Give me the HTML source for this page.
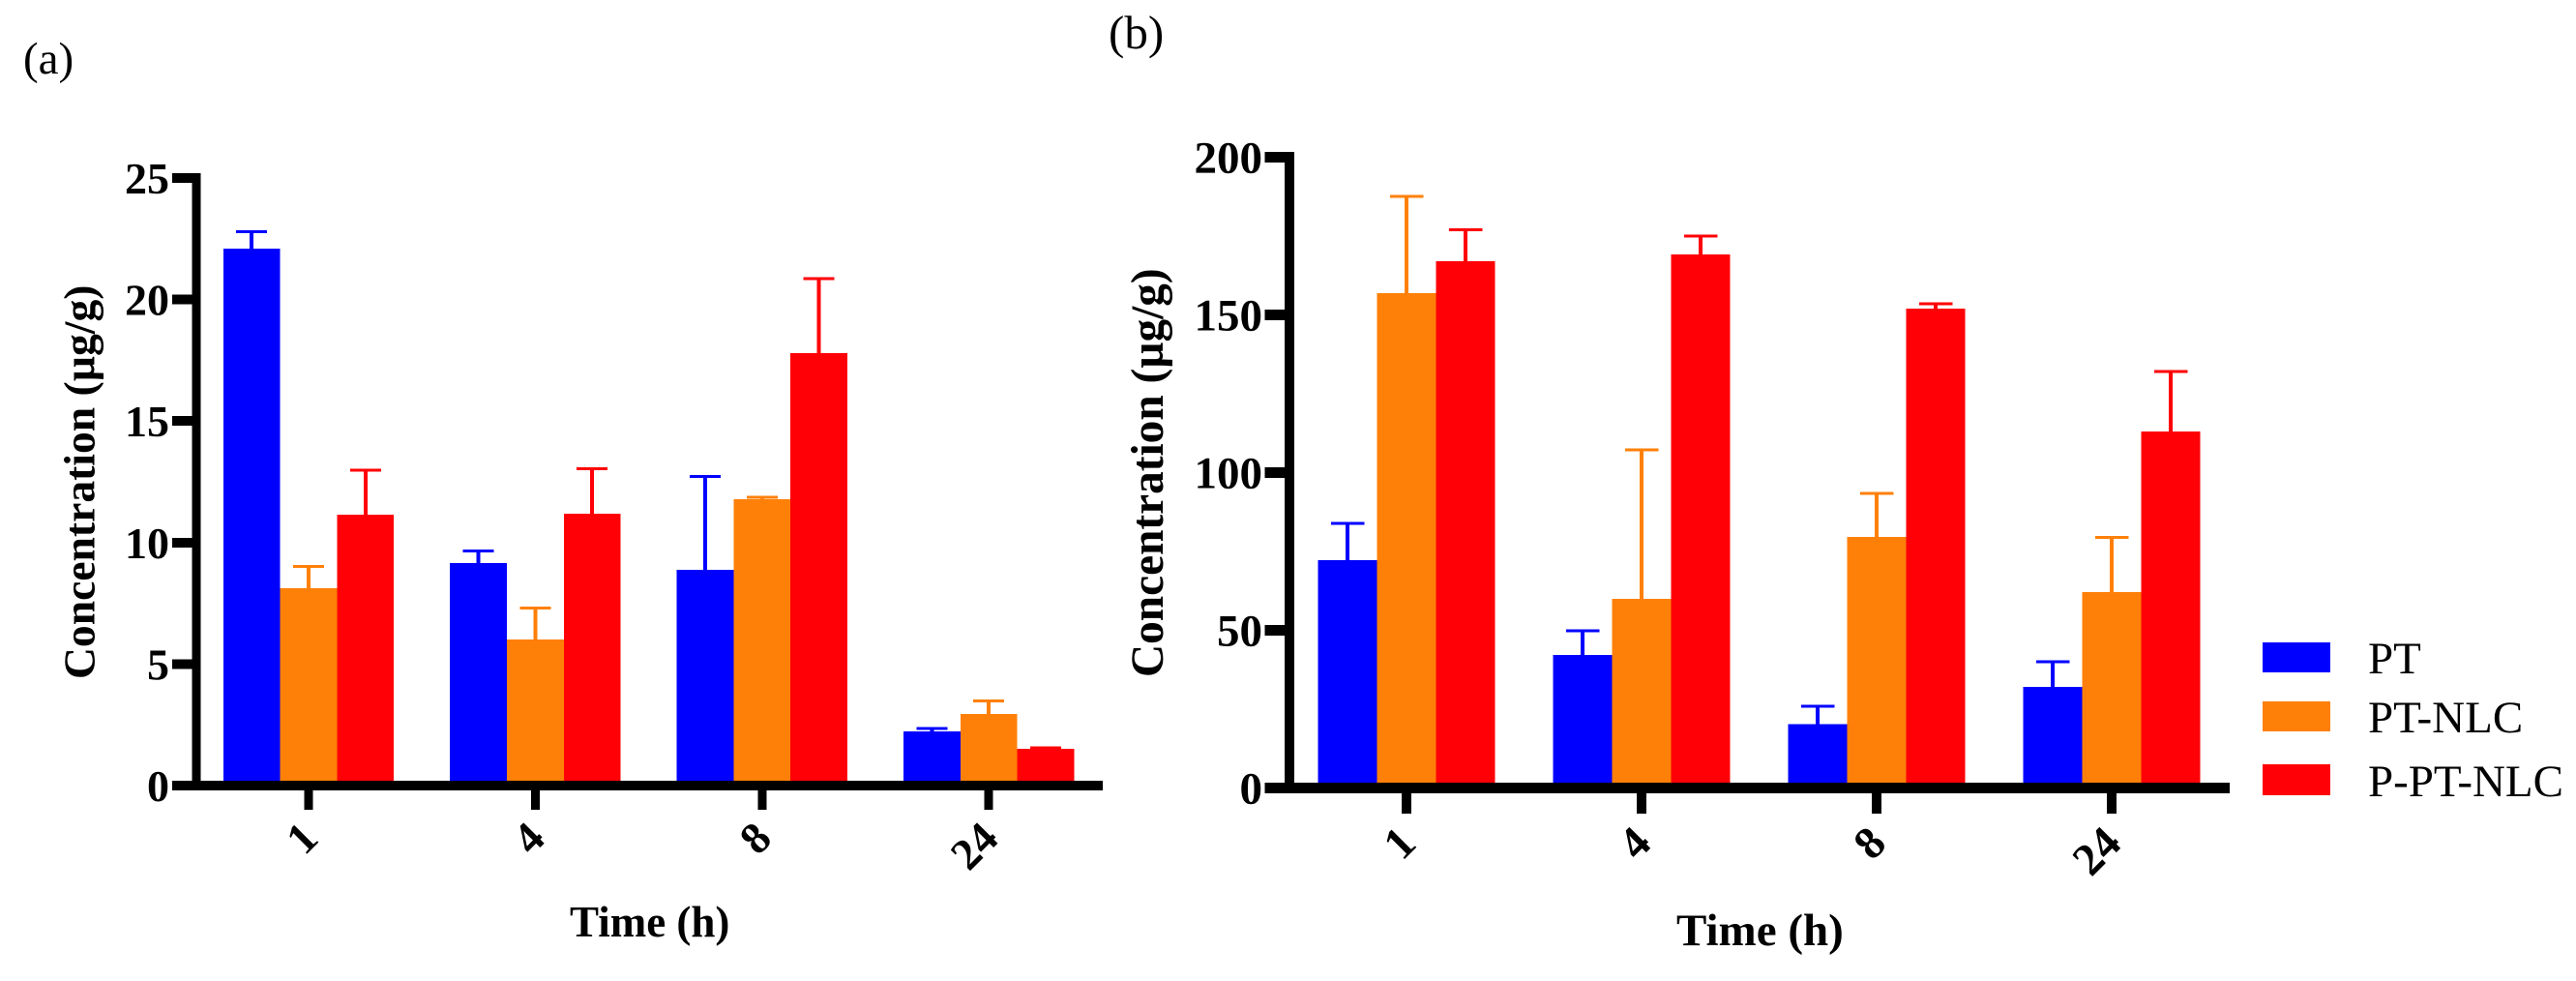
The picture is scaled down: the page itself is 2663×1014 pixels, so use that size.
<!DOCTYPE html>
<html>
<head>
<meta charset="utf-8">
<title>Concentration bar charts</title>
<style>
html,body{margin:0;padding:0;background:#fff;}
#figure{display:block;width:2663px;height:1014px;background:#fff;}
text{font-family:"Liberation Serif","DejaVu Serif",serif;fill:#000;}
.b{font-weight:bold;}
rect{shape-rendering:crispEdges;}
</style>
</head>
<body>
<svg id="figure" xmlns="http://www.w3.org/2000/svg" width="2663" height="1014" viewBox="0 0 2663 1014">
  <text x="24" y="76" font-size="47">(a)</text>
  <text x="1146" y="50" font-size="49">(b)</text>

  <g id="chart-a"></g>
  <g id="chart-b"></g>

  <text class="b" font-size="45.6" transform="translate(97.5,702) rotate(-90)">Concentration (µg/g)</text>
  <text class="b" font-size="47.3" transform="translate(1202,700) rotate(-90)">Concentration (µg/g)</text>
  <text class="b" x="589" y="968" font-size="45">Time (h)</text>
  <text class="b" x="1733" y="977" font-size="47">Time (h)</text>

  <g>
    <g>
      <rect x="2339" y="664" width="70" height="31" fill="#0000ff"></rect>
      <text x="2448" y="696" font-size="47">PT</text>
    </g>
    <g>
      <rect x="2339" y="725" width="70" height="31" fill="#ff8008"></rect>
      <text x="2448" y="757" font-size="47">PT-NLC</text>
    </g>
    <g>
      <rect x="2339" y="790" width="70" height="32" fill="#fe0006"></rect>
      <text x="2448" y="823" font-size="47">P-PT-NLC</text>
    </g>
  </g>
</svg>
<script>
// Shared categories and series
var categories = ['1', '4', '8', '24'];
var seriesKeys = ['pt', 'pt-nlc', 'p-pt-nlc'];
var seriesColors = ['#0000ff', '#ff8008', '#fe0006'];

// Panel (a) values
var aTicks = [0, 5, 10, 15, 20, 25];
var aPT = [22.09, 9.16, 8.88, 2.23];
var aPTNLC = [8.12, 6.01, 11.78, 2.95];
var aPPTNLC = [11.15, 11.19, 17.79, 1.51];
var aPTErr = [0.71, 0.49, 3.84, 0.12];
var aPTNLCErr = [0.90, 1.29, 0.08, 0.53];
var aPPTNLCErr = [1.83, 1.84, 3.07, 0.05];

// Panel (b) values
var bTicks = [0, 50, 100, 150, 200];
var bPT = [72.3, 42.2, 20.3, 32.1];
var bPTNLC = [157, 60, 79.7, 62.1];
var bPPTNLC = [167.1, 169.2, 152, 113.1];
var bPTErr = [11.6, 7.7, 5.6, 8];
var bPTNLCErr = [30.7, 47.3, 13.8, 17.4];
var bPPTNLCErr = [10, 5.8, 1.6, 19];

var SVGNS = 'http://www.w3.org/2000/svg';

function make(tag, attrs, parent, text) {
  var node = document.createElementNS(SVGNS, tag);
  for (var k in attrs) node.setAttribute(k, attrs[k]);
  if (text !== undefined) node.textContent = text;
  parent.appendChild(node);
  return node;
}

function drawChart(rootId, prefix, g, ticks, values, errors) {
  var root = document.getElementById(rootId);
  function y(v) { return g.y0 - v * g.unit; }
  function x(i) { return g.x0 + i * g.step; }

  values.forEach(function (series, s) {
    series.forEach(function (v, i) {
      var left = x(i) + (s - 1.5) * g.barW;
      var bar = make('rect', { x: left, y: y(v), width: g.barW, height: g.y0 - y(v), fill: seriesColors[s] }, root);
      
      

      var top = y(v + errors[s][i]);
      var mid = left + g.barW / 2;
      var stem = make('rect', { x: mid - 2, y: top, width: 4, height: y(v) - top, fill: seriesColors[s] }, root);
      
      
      var cap = make('rect', { x: mid - g.capW / 2, y: top - 1.5, width: g.capW, height: 3, fill: seriesColors[s] }, root);
      
      
    });
  });

  var yLine = make('rect', { x: g.axisX, y: y(ticks[ticks.length - 1]) - g.thick / 2, width: g.axisW, height: g.y0 - y(ticks[ticks.length - 1]) + g.thick / 2, fill: '#000' }, root);
  
  

  var xLine = make('rect', { x: g.tickLeft, y: g.y0 - g.thick / 2, width: g.xEnd - g.tickLeft, height: g.thick, fill: '#000' }, root);
  
  

  ticks.forEach(function (t) {
    var mark = make('rect', { x: g.tickLeft, y: y(t) - g.thick / 2, width: g.axisX - g.tickLeft, height: g.thick, fill: '#000' }, root);
    
    
    var label = make('text', { x: g.labelRight, y: y(t) + 16, 'text-anchor': 'end', 'font-size': g.font, 'class': 'b' }, root, String(t));
    
    
  });

  categories.forEach(function (c, i) {
    var mark = make('rect', { x: x(i) - g.axisW / 2, y: g.y0, width: g.axisW, height: g.tickBottom - g.y0, fill: '#000' }, root);
    
    
    var lx = x(i) + 12, ly = g.labelY;
    var label = make('text', { 'text-anchor': 'end', 'font-size': g.font, 'class': 'b', transform: 'translate(' + lx + ',' + ly + ') rotate(-45)' }, root, c);
    
    
  });
}

var geomA = { x0: 319, step: 234.4, barW: 58.8, capW: 32, y0: 812, unit: 25.12, thick: 10, axisX: 198.5, axisW: 9, tickLeft: 178, xEnd: 1140, tickBottom: 837, labelRight: 175, labelY: 869, font: 46 };
var geomB = { x0: 1454, step: 243, barW: 61, capW: 34.5, y0: 814.5, unit: 3.259, thick: 11, axisX: 1328, axisW: 10, tickLeft: 1307.5, xEnd: 2305, tickBottom: 841, labelRight: 1305, labelY: 874, font: 47 };

drawChart('chart-a', 'chart-a', geomA, aTicks, [aPT, aPTNLC, aPPTNLC], [aPTErr, aPTNLCErr, aPPTNLCErr]);
drawChart('chart-b', 'chart-b', geomB, bTicks, [bPT, bPTNLC, bPPTNLC], [bPTErr, bPTNLCErr, bPPTNLCErr]);
</script>
</body>
</html>
